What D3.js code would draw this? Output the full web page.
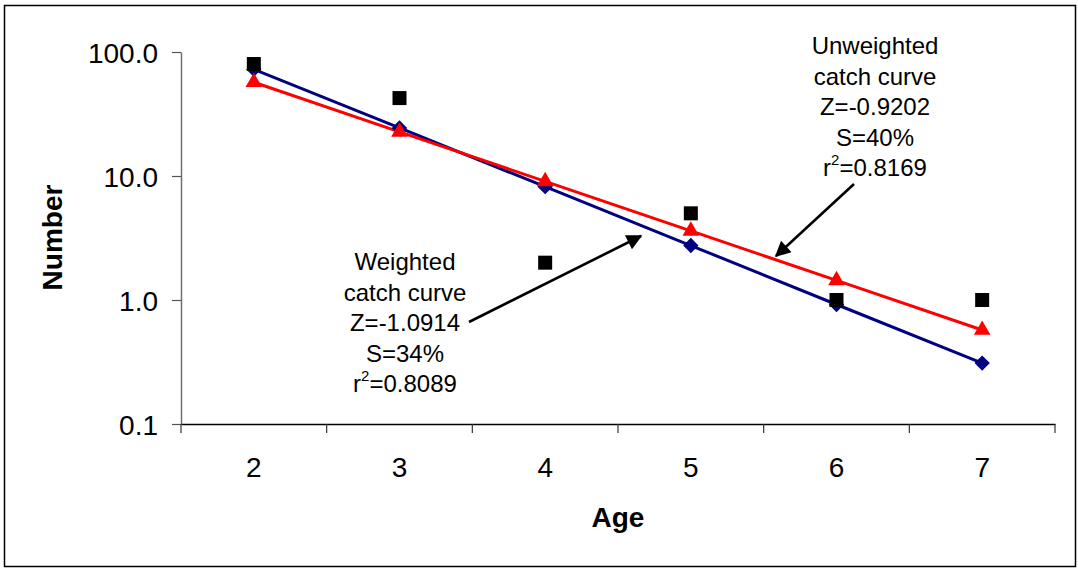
<!DOCTYPE html>
<html>
<head>
<meta charset="utf-8">
<script src="https://cdn.jsdelivr.net/npm/d3@7"></script>
<style>
  html, body { margin: 0; padding: 0; background: #fff; }
  svg { display: block; font-family: Arial, "Liberation Sans", sans-serif; }
</style>
</head>
<body>
<svg id="chart" width="1078" height="569"></svg>
<script>
// ---- data ----
const ages = [2, 3, 4, 5, 6, 7];
const observed = [80, 42.5, 2, 5, 1, 1];
const weightedFit = [72.5, 24.4, 8.2, 2.75, 0.92, 0.31];
const unweightedFit = [57, 22.7, 9.05, 3.61, 1.44, 0.573];
const yTicks = [0.1, 1, 10, 100];
const weightedLabel = ["Weighted", "catch curve", "Z=-1.0914", "S=34%", "r2=0.8089"];
const unweightedLabel = ["Unweighted", "catch curve", "Z=-0.9202", "S=40%", "r2=0.8169"];

const svg = d3.select("#chart");
const plot = { left: 181, right: 1055, top: 52, bottom: 424 };

// outer border
svg.append("rect").attr("x", 4.5).attr("y", 5.5).attr("width", 1071).attr("height", 561)
  .attr("fill", "#fff").attr("stroke", "#000").attr("stroke-width", 1.5);

const x = d3.scaleBand().domain(ages).range([plot.left, plot.right]).padding(0);
const y = d3.scaleLog().domain([0.1, 100]).range([plot.bottom, plot.top]);
const cx = a => x(a) + x.bandwidth() / 2;

// y axis
const yAxis = svg.append("g").attr("transform", `translate(${plot.left},0)`)
  .call(d3.axisLeft(y).tickValues(yTicks).tickFormat(d3.format(".1f")).tickSize(9).tickSizeOuter(0).tickPadding(14));
yAxis.select(".domain").attr("stroke", "#707070").attr("stroke-width", 1.5);
yAxis.selectAll(".tick line").attr("stroke", "#555").attr("stroke-width", 1.2);
yAxis.selectAll(".tick text").attr("font-size", 28).attr("fill", "#000").attr("dy", "0.36em")
  .attr("font-family", "Arial, 'Liberation Sans', sans-serif");

// x axis
const xAxis = svg.append("g").attr("transform", `translate(0,${plot.bottom})`)
  .call(d3.axisBottom(x).tickSize(0).tickSizeOuter(0).tickPadding(33));
xAxis.select(".domain").attr("stroke", "#000").attr("stroke-width", 1.5);
xAxis.selectAll(".tick text").attr("font-size", 28).attr("fill", "#000")
  .attr("font-family", "Arial, 'Liberation Sans', sans-serif");
// boundary ticks between categories
const bounds = ages.map(a => x(a)).concat([x(ages[ages.length - 1]) + x.bandwidth()]);
xAxis.selectAll(".btick").data(bounds).enter().append("line")
  .attr("x1", d => d).attr("x2", d => d).attr("y1", 0).attr("y2", 9)
  .attr("stroke", "#333").attr("stroke-width", 1.2);

// axis titles
svg.append("text").attr("x", 618).attr("y", 527).attr("text-anchor", "middle")
  .attr("font-size", 28).attr("font-weight", "bold").text("Age");
svg.append("text").attr("transform", "translate(62,237.5) rotate(-90)").attr("text-anchor", "middle")
  .attr("font-size", 28).attr("font-weight", "bold").text("Number");

// lines
const line = d3.line().x((d, i) => cx(ages[i])).y(d => y(d));
svg.append("path").datum(weightedFit).attr("d", line).attr("fill", "none")
  .attr("stroke", "#000080").attr("stroke-width", 3);
svg.append("path").datum(unweightedFit).attr("d", line).attr("fill", "none")
  .attr("stroke", "#ff0000").attr("stroke-width", 3);

// markers
svg.selectAll(".dia").data(weightedFit).enter().append("path")
  .attr("d", d3.symbol().type(d3.symbolDiamond2).size(150))
  .attr("transform", (d, i) => `translate(${cx(ages[i])},${y(d)})`)
  .attr("fill", "#000080");
svg.selectAll(".tri").data(unweightedFit).enter().append("path")
  .attr("d", d3.symbol().type(d3.symbolTriangle).size(120))
  .attr("transform", (d, i) => `translate(${cx(ages[i])},${y(d)})`)
  .attr("fill", "#ff0000");
svg.selectAll(".sq").data(observed).enter().append("rect")
  .attr("x", (d, i) => cx(ages[i]) - 7).attr("y", d => y(d) - 7)
  .attr("width", 14).attr("height", 14).attr("fill", "#000");

// arrows
const defs = svg.append("defs");
defs.append("marker").attr("id", "ah").attr("viewBox", "0 0 10 10").attr("refX", 9).attr("refY", 5)
  .attr("markerWidth", 7).attr("markerHeight", 6).attr("markerUnits", "strokeWidth").attr("orient", "auto")
  .append("path").attr("d", "M0,0 L10,5 L0,10 Z").attr("fill", "#000");

svg.append("line").attr("x1", 469).attr("y1", 322).attr("x2", 641).attr("y2", 236)
  .attr("stroke", "#000").attr("stroke-width", 2.6).attr("marker-end", "url(#ah)");
svg.append("line").attr("x1", 854).attr("y1", 184).attr("x2", 776).attr("y2", 256)
  .attr("stroke", "#000").attr("stroke-width", 2.6).attr("marker-end", "url(#ah)");

// annotations
function annot(lines, cxp, y0) {
  const t = svg.append("text").attr("text-anchor", "middle").attr("font-size", 24).attr("fill", "#000");
  lines.forEach((s, i) => {
    const yy = y0 + i * 30.5;
    if (s.startsWith("r2")) {
      svg.append("text").attr("text-anchor", "middle").attr("font-size", 24).attr("y", yy)
        .attr("x", cxp).call(el => {
          el.append("tspan").text("r");
          el.append("tspan").attr("font-size", 15).attr("dy", -11).text("2");
          el.append("tspan").attr("dy", 11).text(s.slice(2));
        });
    } else {
      t.append("tspan").attr("x", cxp).attr("y", yy).text(s);
    }
  });
}
annot(weightedLabel, 405, 270);
annot(unweightedLabel, 875, 54);
</script>
</body>
</html>
